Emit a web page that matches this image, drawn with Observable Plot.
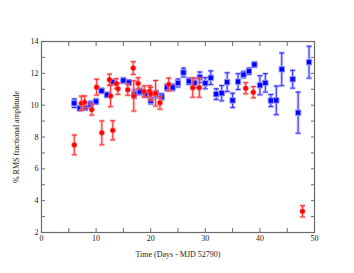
<!DOCTYPE html>
<html>
<head>
<meta charset="utf-8">
<script src="https://cdn.jsdelivr.net/npm/d3@7"></script>
<script src="https://cdn.jsdelivr.net/npm/@observablehq/plot@0.6"></script>
<style>
  html, body { margin: 0; padding: 0; background: #fff; }
  #chart { width: 354px; height: 273px; }
</style>
</head>
<body>
<div id="chart"></div>
<script>
const blueT = [6,7,8,9,10,11,12,13,15,16,17,18,19,20,21,22,23,24,25,26,27,28,29,30,31,32,33,34,35,36,37,38,39,40,41,42,43,44,46,47,49];
const blueV = [10.12,9.8,9.83,10.04,10.23,10.9,10.65,11.46,11.55,11.42,10.7,10.86,10.66,10.28,10.68,10.53,11.11,11.11,11.39,12.05,11.5,11.4,11.75,11.38,11.72,10.69,10.75,11.44,10.3,11.48,11.92,12.13,12.55,11.25,11.4,10.29,10.3,12.25,11.63,9.53,12.7];
const blueE = [0.27,0.15,0.13,0.2,0.15,0.15,0.15,0.15,0.15,0.15,0.25,0.2,0.15,0.2,0.22,0.2,0.2,0.2,0.25,0.28,0.2,0.3,0.33,0.35,0.43,0.34,0.48,0.59,0.45,0.5,0.2,0.2,0.15,0.6,0.58,0.38,0.9,1.03,0.56,1.29,1.0];

const redT = [6.0,7.3,7.9,9.2,10.1,11.05,12.45,12.65,13.05,13.7,14.0,15.8,16.8,16.9,17.7,18.8,19.8,20.0,20.9,21.7,23.3,27.7,28.9,37.4,38.8,47.8];
const redV = [7.5,10.12,10.18,9.72,11.13,8.26,11.6,10.58,8.42,11.36,11.03,10.97,12.33,10.58,11.37,10.86,10.87,10.72,10.75,10.15,11.3,11.1,11.1,11.06,10.81,3.33];
const redE = [0.62,0.45,0.4,0.35,0.5,0.75,0.35,0.68,0.6,0.3,0.35,0.35,0.4,0.95,0.35,0.35,0.35,0.4,0.8,0.4,0.4,0.6,0.6,0.35,0.35,0.35];

const xMajor = [0,10,20,30,40,50];
const xMinor = [0,5,10,15,20,25,30,35,40,45,50];
const yMajor = [2,4,6,8,10,12,14];
const yMinor = [2,3,4,5,6,7,8,9,10,11,12,13,14];

const blue = blueT.map((t,i) => ({t, v: blueV[i], e: blueE[i]}));
const red = redT.map((t,i) => ({t, v: redV[i], e: redE[i]}));

const cap = { draw(context) { context.moveTo(-2.6, 0); context.lineTo(2.6, 0); } };

function errMarks(data, halo, line) {
  return [
    Plot.ruleX(data, {x: "t", y1: d => d.v - d.e, y2: d => d.v + d.e, stroke: halo, strokeWidth: 3, strokeOpacity: 0.55}),
    Plot.dot(data, {x: "t", y: d => d.v - d.e, symbol: cap, r: 3, stroke: halo, strokeWidth: 3, strokeOpacity: 0.55}),
    Plot.dot(data, {x: "t", y: d => d.v + d.e, symbol: cap, r: 3, stroke: halo, strokeWidth: 3, strokeOpacity: 0.55}),
    Plot.ruleX(data, {x: "t", y1: d => d.v - d.e, y2: d => d.v + d.e, stroke: line, strokeWidth: 1}),
    Plot.dot(data, {x: "t", y: d => d.v - d.e, symbol: cap, r: 3, stroke: line, strokeWidth: 1}),
    Plot.dot(data, {x: "t", y: d => d.v + d.e, symbol: cap, r: 3, stroke: line, strokeWidth: 1})
  ];
}

const frameColor = "#6a6a6a";

const chart = Plot.plot({
  width: 354,
  height: 273,
  marginLeft: 41,
  marginRight: 40,
  marginTop: 41,
  marginBottom: 41,
  style: {fontFamily: "'Liberation Serif', serif", fontSize: "8px", color: "#222", background: "#fff"},
  x: {domain: [0, 50]},
  y: {domain: [2, 14]},
  marks: [
    Plot.frame({stroke: frameColor, strokeWidth: 1.2}),
    Plot.axisX(xMinor, {anchor: "bottom", tickSize: -4, tickFormat: () => "", label: null, stroke: frameColor}),
    Plot.axisX(xMinor, {anchor: "top", tickSize: -4, tickFormat: () => "", label: null, stroke: frameColor}),
    Plot.axisY(yMinor, {anchor: "left", tickSize: -4, tickFormat: () => "", label: null, stroke: frameColor}),
    Plot.axisY(yMinor, {anchor: "right", tickSize: -4, tickFormat: () => "", label: null, stroke: frameColor}),
    Plot.axisX(xMajor, {anchor: "bottom", tickSize: 0, tickPadding: 3, label: "Time (Days - MJD 52790)", labelAnchor: "center", labelArrow: "none", labelOffset: 24, fill: "#222"}),
    Plot.axisY(yMajor, {anchor: "left", tickSize: 0, tickPadding: 3, label: "% RMS fractional amplitude", labelAnchor: "center", labelArrow: "none", labelOffset: 28, fill: "#222"}),
    ...errMarks(blue, "#9a9aff", "#3030ff"),
    Plot.dot(blue, {x: "t", y: "v", symbol: "square", r: 3, fill: "#0000ff", stroke: "#8c8cff", strokeWidth: 1}),
    ...errMarks(red, "#ff9a9a", "#ff2a2a"),
    Plot.dot(red, {x: "t", y: "v", r: 2.6, fill: "#ff0000", stroke: "#ff7070", strokeWidth: 0.6})
  ]
});
document.getElementById("chart").appendChild(chart);
</script>
</body>
</html>
